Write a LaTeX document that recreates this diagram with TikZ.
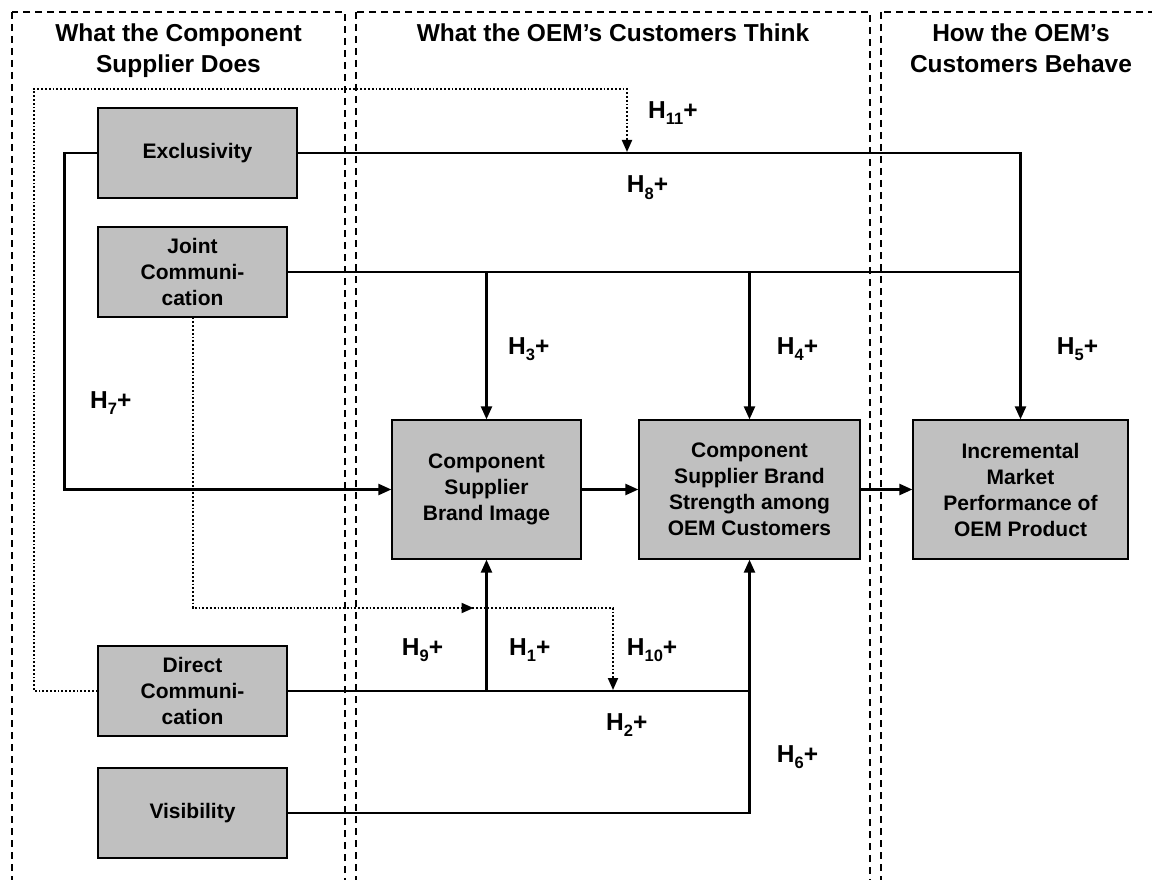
\documentclass[tikz,border=0pt]{standalone}
\usepackage{fontspec}
\setmainfont{Liberation Sans}
\usetikzlibrary{arrows.meta}
\definecolor{boxgray}{RGB}{192,192,192}
% hypothesis label: H with a lowered index and a plus sign
\newcommand{\hyp}[1]{H\raisebox{-6.5pt}{\fontsize{16.5}{16.5}\selectfont #1}+}

\begin{document}
\begin{tikzpicture}[x=1pt,y=-1pt,
  box/.style={draw=black, line width=1.3pt, fill=boxgray, align=center, inner sep=0pt,
              font=\fontsize{21}{26}\selectfont\bfseries},
  column/.style={draw=black, line width=1.2pt, dash pattern=on 7pt off 5pt},
  title/.style={align=center, inner sep=0pt, font=\fontsize{24.5}{30.5}\selectfont\bfseries},
  conn/.style={line width=2.4pt},
  arr/.style={conn, -{Triangle[length=13pt,width=11pt]}},
  dots/.style={line width=2pt, dash pattern=on 1.8pt off 2pt},
  dotarr/.style={dots, -{Triangle[length=12pt,width=10pt]}},
  hlabel/.style={anchor=base west, inner sep=0pt, font=\fontsize{24.5}{29}\selectfont\bfseries}
]
\useasboundingbox (0,0) rectangle (1152,880);

% dashed column frames
\begin{scope}
  \clip (0,0) rectangle (1152,880);
  \draw[column] (12,12) rectangle (345,900);
  \draw[column] (356,12) rectangle (870,900);
  \draw[column] (881,12) rectangle (1180,900);
\end{scope}

% column headings
\node[title, anchor=north] (t1) at (178.5,24) {What the Component\\Supplier Does};
\node[title, anchor=north] (t2) at (613,24) {What the OEM’s Customers Think};
\node[title, anchor=north] (t3) at (1021,24) {How the OEM’s\\Customers Behave};

% constructs
\node[box, minimum width=199pt, minimum height=90pt] (excl) at (197.5,153) {Exclusivity};
\node[box, minimum width=189pt, minimum height=90pt] (joint) at (192.5,272) {Joint\\Communi-\\cation};
\node[box, minimum width=189pt, minimum height=90pt] (direct) at (192.5,691) {Direct\\Communi-\\cation};
\node[box, minimum width=189pt, minimum height=90pt] (vis) at (192.5,813) {Visibility};
\node[box, minimum width=189pt, minimum height=139pt] (image) at (486.5,489.5) {Component\\Supplier\\Brand Image};
\node[box, minimum width=221pt, minimum height=139pt] (strength) at (749.5,489.5) {Component\\Supplier Brand\\Strength among\\OEM Customers};
\node[box, minimum width=215pt, minimum height=139pt] (perf) at (1020.5,489.5) {Incremental\\Market\\Performance of\\OEM Product};

% main effects
\draw[arr] (excl.west) -- ++(-33,0) |- (image.west);
\draw[arr] (excl.east) -| (perf.north);
\draw[conn] (joint.east) -- (joint.east -| perf.north);
\draw[arr] (joint.east -| image.north) -- (image.north);
\draw[arr] (joint.east -| strength.north) -- (strength.north);
\draw[arr] (image.east) -- (strength.west);
\draw[arr] (strength.east) -- (perf.west);
\draw[conn] (direct.east) -- (direct.east -| strength.south);
\draw[arr] (direct.east -| image.south) -- (image.south);
\draw[arr] (vis.east) -| (strength.south);

% moderating effects
\coordinate (m11) at (627,153);
\coordinate (m9) at (486.5,608);
\coordinate (k10) at (613,608);
\coordinate (m10) at (613,691);
\draw[dotarr, shorten >=1pt] (direct.west) -| (34,89) -| (m11);
\draw[dotarr, shorten >=13pt] (joint.south) |- (m9);
\draw[dotarr, shorten >=1pt] (joint.south) |- (k10) -- (m10);

% hypothesis labels
\node[hlabel] (h11) at (648,118.3) {\hyp{11}};
\node[hlabel] (h8) at (626.7,193) {\hyp{8}};
\node[hlabel] (h3) at (508,354) {\hyp{3}};
\node[hlabel] (h4) at (776.7,354) {\hyp{4}};
\node[hlabel] (h5) at (1056.7,354) {\hyp{5}};
\node[hlabel] (h7) at (90,408) {\hyp{7}};
\node[hlabel] (h9) at (401.7,655) {\hyp{9}};
\node[hlabel] (h1) at (509,655) {\hyp{1}};
\node[hlabel] (h10) at (626.7,655) {\hyp{10}};
\node[hlabel] (h2) at (606,730) {\hyp{2}};
\node[hlabel] (h6) at (776.7,762) {\hyp{6}};
\end{tikzpicture}
\end{document}
